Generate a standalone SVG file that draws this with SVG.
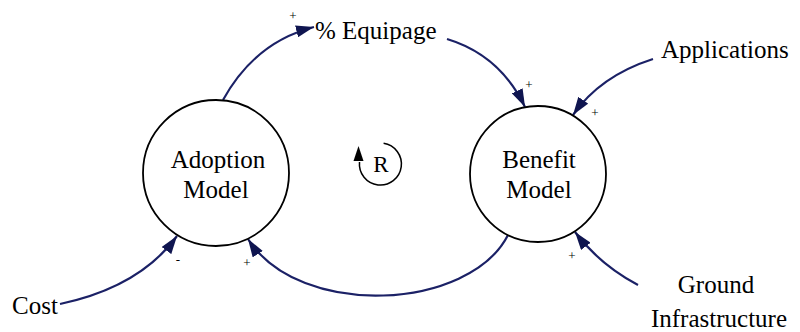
<svg xmlns="http://www.w3.org/2000/svg" width="800" height="332" viewBox="0 0 800 332" font-family="Liberation Serif, Times New Roman, DejaVu Serif, serif">
<style>
text{font-family:'Liberation Serif','Times New Roman','DejaVu Serif',serif}
.node{fill:#fff;stroke:#000;stroke-width:1.8}
.lbl{font-size:25px;fill:#000}
.sign{font-size:13px;fill:#000;text-anchor:middle}
.link{fill:none;stroke:#1b2166;stroke-width:2.2}
</style>
<defs>
<marker id="ah" markerUnits="userSpaceOnUse" markerWidth="18" markerHeight="12" refX="18" refY="6" orient="auto">
<path d="M0,0 L18,6 L0,12 z" fill="#0f1550"/>
</marker>
</defs>
<rect width="800" height="332" fill="#fff"/>
<g id="connectors">
<path class="link" d="M223,100 Q255,42 314,27" marker-end="url(#ah)"/>
<path class="link" d="M447,39 Q500,55 525,107" marker-end="url(#ah)"/>
<path class="link" d="M653,59 Q600,76 573,115" marker-end="url(#ah)"/>
<path class="link" d="M638,285 Q600,265 575,232" marker-end="url(#ah)"/>
<path class="link" d="M508,235 C470,310 300,320 248,239" marker-end="url(#ah)"/>
<path class="link" d="M60,304 Q140,287 177,236" marker-end="url(#ah)"/>
</g>
<g id="adoption">
<circle class="node" cx="216" cy="173" r="73"/>
<text class="lbl" x="218" y="168" text-anchor="middle">Adoption</text>
<text class="lbl" x="216" y="198" text-anchor="middle">Model</text>
</g>
<g id="benefit">
<circle class="node" cx="538" cy="174" r="68"/>
<text class="lbl" x="539" y="168" text-anchor="middle">Benefit</text>
<text class="lbl" x="539" y="198" text-anchor="middle">Model</text>
</g>
<g id="equipage">
<text class="lbl" x="315" y="39">% Equipage</text>
</g>
<g id="applications">
<text class="lbl" x="661" y="58">Applications</text>
</g>
<g id="cost">
<text class="lbl" x="12" y="314">Cost</text>
</g>
<g id="ground">
<text class="lbl" x="716" y="293" text-anchor="middle">Ground</text>
<text class="lbl" x="719" y="327" text-anchor="middle">Infrastructure</text>
</g>
<g id="loop">
<path d="M383.6,143.3 A21,21 0 1 1 359.5,162" fill="none" stroke="#000" stroke-width="1.5"/>
<path d="M358.5,146 L363.5,161 L353.5,161 z" fill="#000"/>
<text class="lbl" x="381" y="172" text-anchor="middle" style="font-size:23px">R</text>
</g>
<g id="signs">
<text class="sign" x="293" y="20">+</text>
<text class="sign" x="529" y="89">+</text>
<text class="sign" x="595" y="117">+</text>
<text class="sign" x="572" y="260">+</text>
<text class="sign" x="247" y="267">+</text>
<text class="sign" x="178" y="264">-</text>
</g>
</svg>
